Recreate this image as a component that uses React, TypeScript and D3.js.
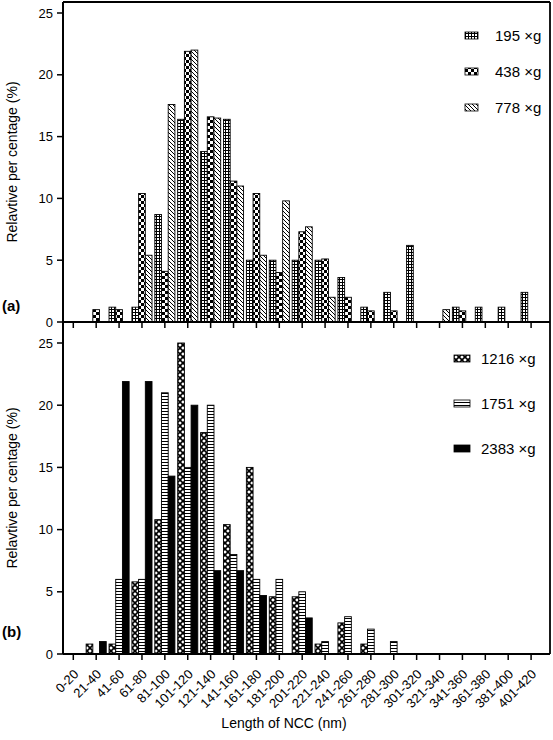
import React from 'react';
import * as d3 from 'd3';

const categories = ['0-20','21-40','41-60','61-80','81-100','101-120','121-140','141-160','161-180','181-200','201-220','221-240','241-260','261-280','281-300','301-320','321-340','341-360','361-380','381-400','401-420'];

// panel (a)
const g195 = [0, 0, 1.2, 1.2, 8.7, 16.4, 13.8, 16.4, 5.0, 5.0, 5.0, 5.0, 3.6, 1.2, 2.4, 6.2, 0, 1.2, 1.2, 1.2, 2.4];
const g438 = [0, 1.0, 1.0, 10.4, 4.1, 21.9, 16.6, 11.4, 10.4, 4.0, 7.3, 5.1, 2.0, 0.9, 0.9, 0, 0, 0.9, 0, 0, 0];
const g778 = [0, 0, 0, 5.4, 17.6, 22.0, 16.5, 11.0, 5.4, 9.8, 7.7, 2.0, 0, 0, 0, 0, 1.0, 0, 0, 0, 0];

// panel (b)
const g1216 = [0, 0.8, 0.8, 5.8, 10.8, 25.0, 17.8, 10.4, 15.0, 4.6, 4.6, 0.8, 2.5, 0.8, 0, 0, 0, 0, 0, 0, 0];
const g1751 = [0, 0, 6.0, 6.0, 21.0, 15.0, 20.0, 8.0, 6.0, 6.0, 5.0, 1.0, 3.0, 2.0, 1.0, 0, 0, 0, 0, 0, 0];
const g2383 = [0, 1.0, 21.9, 21.9, 14.3, 20.0, 6.7, 6.7, 4.7, 0, 2.9, 0, 0, 0, 0, 0, 0, 0, 0, 0, 0];

const yTicks = [0, 5, 10, 15, 20, 25];
const legendTop = ['195 ×g', '438 ×g', '778 ×g'];
const legendBot = ['1216 ×g', '1751 ×g', '2383 ×g'];

const FONT = "Arial, 'Liberation Sans', sans-serif";

export default function App() {
  const W = 553, H = 740;
  const left = 63, right = 550, top = 2, mid = 322, bottom = 654;
  const x = d3.scaleBand<string>().domain(categories).range([61.85, 542.54]).padding(0);
  const yTop = d3.scaleLinear().domain([0, 25]).range([mid, 13]);
  const yBot = d3.scaleLinear().domain([0, 25]).range([bottom, 343]);
  const bw = 6.7;
  const cx = (c: string) => (x(c) as number) + x.bandwidth() / 2;

  const topSeries = [
    { vals: g195, fill: 'url(#p195)' },
    { vals: g438, fill: 'url(#p438)' },
    { vals: g778, fill: 'url(#p778)' },
  ];
  const botSeries = [
    { vals: g1216, fill: 'url(#p1216)' },
    { vals: g1751, fill: 'url(#p1751)' },
    { vals: g2383, fill: '#000' },
  ];

  const bars = (series: { vals: number[]; fill: string }[], y: d3.ScaleLinear<number, number>, key: string) =>
    series.map((s, j) =>
      categories.map((c, i) => {
        const v = s.vals[i];
        if (!v) return null;
        const x0 = cx(c) + (j - 1) * bw - bw / 2;
        return (
          <rect key={key + j + '-' + i} x={x0} y={y(v)} width={bw} height={y(0) - y(v)}
            fill={s.fill} stroke="#000" strokeWidth={0.9} />
        );
      })
    );

  const yAxis = (y: d3.ScaleLinear<number, number>, key: string) =>
    yTicks.map((t) => (
      <g key={key + t}>
        <line x1={left - 6} x2={left} y1={y(t)} y2={y(t)} stroke="#000" strokeWidth={1.5} />
        <text x={left - 10} y={y(t)} dy="0.36em" textAnchor="end" fontSize={13} fontFamily={FONT}>{t}</text>
      </g>
    ));

  const xTicks = (y0: number, key: string) =>
    categories.map((c) => (
      <line key={key + c} x1={cx(c)} x2={cx(c)} y1={y0} y2={y0 + 6} stroke="#000" strokeWidth={1.5} />
    ));

  return (
    <div style={{ position: 'absolute', left: 0, top: 0 }}>
      <svg width={W} height={H} style={{ display: 'block', background: '#fff' }}>
        <defs>
          <pattern id="p195" width={3} height={3} patternUnits="userSpaceOnUse">
            <rect width={3} height={3} fill="#fff" />
            <rect width={3} height={1} fill="#000" />
            <rect width={1} height={3} fill="#000" />
          </pattern>
          <pattern id="p438" width={6} height={6} patternUnits="userSpaceOnUse">
            <rect width={6} height={6} fill="#fff" />
            <rect x={0} y={0} width={3} height={3} fill="#000" />
            <rect x={3} y={3} width={3} height={3} fill="#000" />
          </pattern>
          <pattern id="p778" width={4} height={4} patternUnits="userSpaceOnUse">
            <rect width={4} height={4} fill="#fff" />
            <path d="M-1,-1 L5,5 M-1,3 L1,5 M3,-1 L5,1" stroke="#000" strokeWidth={1} />
          </pattern>
          <pattern id="p1216" width={6} height={6} patternUnits="userSpaceOnUse">
            <rect width={6} height={6} fill="#fff" />
            <path d="M0,0 L6,6 M6,0 L0,6" stroke="#000" strokeWidth={1.6} />
          </pattern>
          <pattern id="p1751" width={4} height={3} patternUnits="userSpaceOnUse">
            <rect width={4} height={3} fill="#fff" />
            <rect width={4} height={1} fill="#000" />
          </pattern>
        </defs>

        {bars(topSeries, yTop, 't')}
        {bars(botSeries, yBot, 'b')}

        {/* frame */}
        <line x1={left} x2={left} y1={top} y2={bottom} stroke="#000" strokeWidth={2} />
        <line x1={right} x2={right} y1={top} y2={bottom} stroke="#000" strokeWidth={1.8} />
        <line x1={left} x2={right} y1={top} y2={top} stroke="#000" strokeWidth={1.8} />
        <line x1={left} x2={right} y1={mid} y2={mid} stroke="#000" strokeWidth={2} />
        <line x1={left} x2={right} y1={bottom} y2={bottom} stroke="#000" strokeWidth={2} />

        {yAxis(yTop, 'yt')}
        {yAxis(yBot, 'yb')}
        {xTicks(mid, 'xt')}
        {xTicks(bottom, 'xb')}

        {categories.map((c) => (
          <text key={'lab' + c} transform={`translate(${cx(c) + 6},${675}) rotate(-45)`}
            textAnchor="end" fontSize={13} fontFamily={FONT}>{c}</text>
        ))}

        <text x={284} y={728} textAnchor="middle" fontSize={14} fontFamily={FONT}>Length of NCC (nm)</text>
        <text transform={`translate(17,${(top + mid) / 2}) rotate(-90)`} textAnchor="middle" fontSize={14} fontFamily={FONT}>Relavtive per centage (%)</text>
        <text transform={`translate(17,${(mid + bottom) / 2}) rotate(-90)`} textAnchor="middle" fontSize={14} fontFamily={FONT}>Relavtive per centage (%)</text>
        <text x={2} y={311} fontSize={15} fontWeight="bold" fontFamily={FONT}>(a)</text>
        <text x={2} y={637} fontSize={15} fontWeight="bold" fontFamily={FONT}>(b)</text>

        {legendTop.map((t, k) => (
          <g key={'lt' + k}>
            <rect x={465} y={32 + k * 36} width={13} height={7} fill={topSeries[k].fill} stroke="#000" strokeWidth={0.8} />
            <text x={495} y={35.5 + k * 36} dy="0.36em" fontSize={15} fontFamily={FONT}>{t}</text>
          </g>
        ))}
        {legendBot.map((t, k) => (
          <g key={'lb' + k}>
            <rect x={454} y={355 + k * 45} width={16} height={7} fill={botSeries[k].fill} stroke="#000" strokeWidth={0.8} />
            <text x={481} y={358.5 + k * 45} dy="0.36em" fontSize={15} fontFamily={FONT}>{t}</text>
          </g>
        ))}
      </svg>
    </div>
  );
}
